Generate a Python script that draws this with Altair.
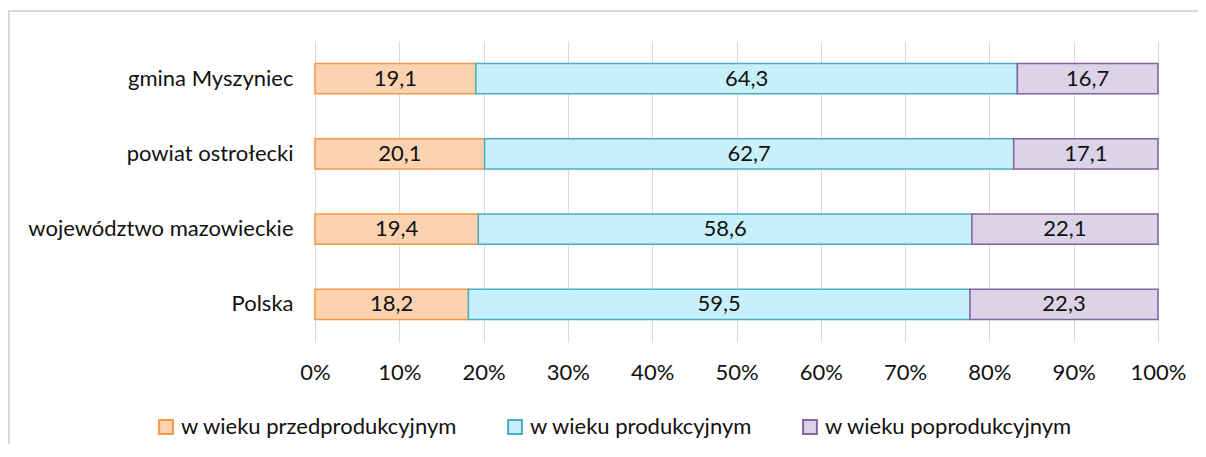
import altair as alt
import pandas as pd

regions = ["gmina Myszyniec", "powiat ostrołecki", "województwo mazowieckie", "Polska"]
groups = ["w wieku przedprodukcyjnym", "w wieku produkcyjnym", "w wieku poprodukcyjnym"]
przed = [19.1, 20.1, 19.4, 18.2]
prod = [64.3, 62.7, 58.6, 59.5]
po = [16.7, 17.1, 22.1, 22.3]
ticks = [0, 0.1, 0.2, 0.3, 0.4, 0.5, 0.6, 0.7, 0.8, 0.9, 1.0]

rows = []
for i, r in enumerate(regions):
    for k, (g, vals) in enumerate(zip(groups, [przed, prod, po])):
        rows.append({"region": r, "grupa": g, "order": k, "v": vals[i]})
df = pd.DataFrame(rows)

FONT = "Lato"
FS = 22
fills = ["#FCD3B0", "#C8F0FB", "#DCD3E8"]
strokes = ["#F79646", "#4BACC6", "#8064A2"]

base = alt.Chart(df)

frame = base.mark_rect(fill=None, stroke="#D9D9D9", strokeWidth=1.5, clip=False).encode(
    x=alt.value(-306), x2=alt.value(1000), y=alt.value(-30), y2=alt.value(600)
)

bars = base.mark_bar(strokeWidth=1.5).encode(
    y=alt.Y("region:N", sort=regions, title=None,
            scale=alt.Scale(paddingInner=0.6, paddingOuter=0.3),
            axis=alt.Axis(labelFont=FONT, labelFontSize=FS, labelColor="#111111",
                          ticks=False, domain=False, labelPadding=22, labelLimit=400)),
    x=alt.X("v:Q", stack="normalize", title=None,
            scale=alt.Scale(domain=[0, 1]),
            axis=alt.Axis(values=ticks, format=".0%", labelFont=FONT, labelFontSize=FS,
                          labelColor="#111111", ticks=False, domain=False, labelFlush=False,
                          grid=True, gridColor="#D9D9D9", labelPadding=20)),
    fill=alt.Fill("grupa:N", sort=groups, scale=alt.Scale(domain=groups, range=fills),
                  legend=alt.Legend(title=None, orient="none", direction="horizontal",
                                    legendX=-160, legendY=375, symbolType="square",
                                    symbolSize=190, symbolStrokeWidth=2,
                                    labelFont=FONT, labelFontSize=FS, labelColor="#111111",
                                    labelLimit=500, labelOffset=4, columnPadding=46)),
    stroke=alt.Stroke("grupa:N", sort=groups, scale=alt.Scale(domain=groups, range=strokes)),
    order=alt.Order("order:Q"),
)

labels = base.transform_stack(
    stack="v", groupby=["region"], as_=["x0", "x1"], offset="normalize",
    sort=[alt.SortField("order", "ascending")]
).transform_calculate(
    mid="(datum.x0 + datum.x1) / 2",
    txt="replace(format(datum.v, '.1f'), '.', ',')"
).mark_text(font=FONT, fontSize=FS, color="#111111").encode(
    y=alt.Y("region:N", sort=regions),
    x=alt.X("mid:Q"),
    text="txt:N",
)

chart = alt.layer(frame, bars, labels).properties(
    width=843, height=301,
    autosize=alt.AutoSizeParams(type="none"),
    padding={"left": 307, "top": 33, "right": 40, "bottom": 102},
).configure_view(stroke=None)

chart.save("out.html", embed_options={"renderer": "svg", "actions": False})
